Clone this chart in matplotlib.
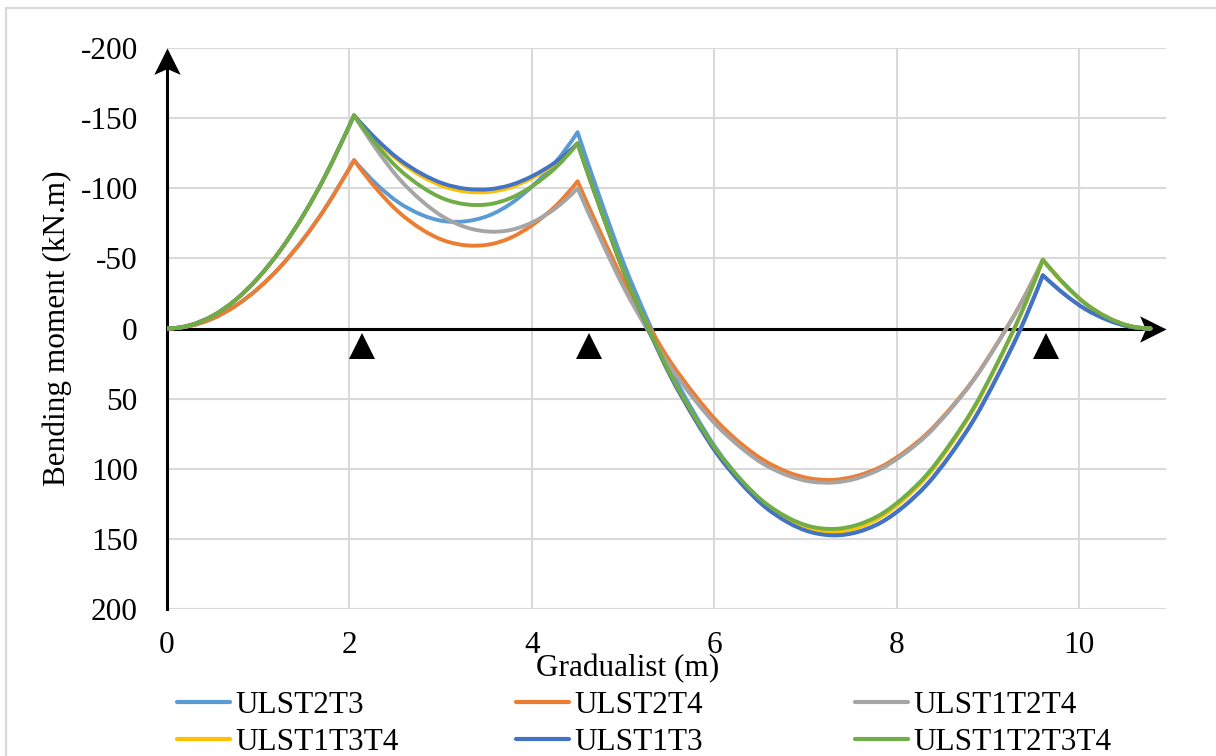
import matplotlib
matplotlib.use("Agg")
import matplotlib.pyplot as plt
from matplotlib.path import Path
from matplotlib.patches import PathPatch
from matplotlib.lines import Line2D

plt.rcParams['font.family'] = ['Liberation Serif', 'DejaVu Serif']

# ---------------- data ----------------
x_m = [0, 0.25, 0.5, 0.75, 1.0, 1.25, 1.5, 1.75, 2.05,
       2.30, 2.54, 2.79, 3.03, 3.28, 3.53, 3.77, 4.01, 4.26, 4.50,
       4.76, 5.01, 5.27, 5.52, 5.78, 6.03, 6.29, 6.54, 6.80, 7.05,
       7.31, 7.56, 7.82, 8.07, 8.33, 8.58, 8.84, 9.09, 9.35, 9.60,
       9.84, 10.07, 10.31, 10.54, 10.78]

ULST2T3 = [0, -1.8, -7.1, -16.1, -28.6, -44.6, -64.2, -87.4, -120,
           -102.7, -89.8, -81.1, -76.6, -76.5, -80.6, -89.1, -101.8, -118.7, -140,
           -90.6, -45.9, -5.8, 29.6, 60.4, 86.5, 107.9, 124.7, 136.8, 144.2,
           147.0, 145.1, 138.5, 127.3, 111.4, 90.9, 65.6, 35.8, 1.2, -38,
           -24.3, -13.7, -6.1, -1.5, 0]
ULST2T4 = [0, -1.8, -7.1, -16.1, -28.6, -44.6, -64.2, -87.4, -120,
           -99.3, -83.0, -70.8, -62.9, -59.3, -59.9, -64.8, -74.0, -87.4, -105,
           -67.3, -33.2, -2.8, 23.9, 46.9, 66.3, 82.0, 93.9, 102.3, 106.9,
           107.9, 105.1, 98.8, 88.7, 74.9, 57.5, 36.4, 11.6, -16.9, -49,
           -31.4, -17.6, -7.8, -2.0, 0]
ULST1T2T4 = [0, -2.3, -9.0, -20.3, -36.2, -56.5, -81.4, -110.8, -152,
             -127.4, -107.1, -91.1, -79.5, -72.1, -69.1, -70.3, -75.9, -85.8, -100,
             -62.6, -28.8, 1.3, 27.7, 50.5, 69.5, 84.9, 96.7, 104.7, 109.1,
             109.8, 106.9, 100.2, 89.9, 76.0, 58.3, 37.0, 12.0, -16.7, -49,
             -31.4, -17.6, -7.8, -2.0, 0]
ULST1T3T4 = [0, -2.3, -9.0, -20.3, -36.2, -56.5, -81.4, -110.8, -152,
             -134.0, -119.6, -108.7, -101.4, -97.6, -97.4, -100.7, -107.6, -118.0, -132,
             -83.5, -39.6, -0.4, 34.1, 64.0, 89.1, 109.6, 125.5, 136.6, 143.1,
             144.9, 142.1, 134.5, 122.3, 105.5, 83.9, 57.7, 26.8, -8.8, -49,
             -31.4, -17.6, -7.8, -2.0, 0]
ULST1T3 = [0, -2.3, -9.0, -20.3, -36.2, -56.5, -81.4, -110.8, -152,
           -134.7, -120.9, -110.4, -103.3, -99.6, -99.3, -102.4, -108.9, -118.7, -132,
           -83.6, -39.8, -0.5, 34.1, 64.1, 89.5, 110.3, 126.5, 138.1, 145.1,
           147.5, 145.3, 138.5, 127.1, 111.1, 90.5, 65.3, 35.4, 1.0, -38,
           -24.3, -13.7, -6.1, -1.5, 0]
ULST1T2T3T4 = [0, -2.3, -9.0, -20.3, -36.2, -56.5, -81.4, -110.8, -152,
               -130.7, -113.8, -101.1, -92.6, -88.5, -88.6, -93.1, -101.8, -114.7, -132,
               -83.8, -40.3, -1.4, 32.8, 62.5, 87.4, 107.8, 123.5, 134.6, 141.1,
               142.9, 140.1, 132.7, 120.6, 104.0, 82.6, 56.7, 26.1, -9.2, -49,
               -31.4, -17.6, -7.8, -2.0, 0]

series_names = ["ULST2T3", "ULST2T4", "ULST1T2T4", "ULST1T3T4", "ULST1T3", "ULST1T2T3T4"]
series_values = [ULST2T3, ULST2T4, ULST1T2T4, ULST1T3T4, ULST1T3, ULST1T2T3T4]
series_colors = ["#5B9BD5", "#ED7D31", "#A5A5A5", "#FFC000", "#4472C4", "#70AD47"]

kink_x = [2.05, 4.50, 9.60]          # supports where the moment curve has a corner
support_x = [2.14, 4.63, 9.63]       # drawn support triangles
support_y = [12.5, 12.5, 12.5]

x_ticks = [0, 2, 4, 6, 8, 10]
y_ticks = [-200, -150, -100, -50, 0, 50, 100, 150, 200]
y_tick_labels = ["-200", "-150", "-100", "-50", "0", "50", "100", "150", "200"]

x_label = "Gradualist (m)"
y_label = "Bending moment (kN.m)"


def smooth_path(xs, ys, corners):
    """Smoothed line through the given points (like a spreadsheet 'smoothed line'),
    keeping sharp corners at the given x positions."""
    pts = list(zip(xs, ys))
    cut = [0] + [i for i, xv in enumerate(xs) if any(abs(xv - c) < 1e-9 for c in corners)] + [len(xs) - 1]
    verts, codes = [pts[0]], [Path.MOVETO]
    for a, b in zip(cut[:-1], cut[1:]):
        p = pts[a:b + 1]
        n = len(p)
        if n >= 3:
            first = (3 * p[0][0] - 3 * p[1][0] + p[2][0], 3 * p[0][1] - 3 * p[1][1] + p[2][1])
            last = (3 * p[-1][0] - 3 * p[-2][0] + p[-3][0], 3 * p[-1][1] - 3 * p[-2][1] + p[-3][1])
        else:
            first, last = p[0], p[-1]
        q = [first] + p + [last]
        for i in range(1, n):
            p0, p1, p2, p3 = q[i - 1], q[i], q[i + 1], q[i + 2]
            c1 = (p1[0] + (p2[0] - p0[0]) / 6, p1[1] + (p2[1] - p0[1]) / 6)
            c2 = (p2[0] - (p3[0] - p1[0]) / 6, p2[1] - (p3[1] - p1[1]) / 6)
            verts += [c1, c2, p2]
            codes += [Path.CURVE4] * 3
    return Path(verts, codes)


# ---------------- figure ----------------
W, H = 1216, 756
fig = plt.figure(figsize=(W / 100, H / 100), dpi=100)
ax = fig.add_axes([167 / W, 1 - 609 / H, 999 / W, 561 / H])

XMAX = 10.95
ax.set_xlim(0, XMAX)
ax.set_ylim(200, -200)

FS = 22.5
ax.set_xticks(x_ticks)
ax.set_xticklabels([str(t) for t in x_ticks], fontsize=FS)
ax.set_yticks(y_ticks)
ax.set_yticklabels(y_tick_labels, fontsize=FS)
ax.tick_params(axis='both', length=0)
ax.tick_params(axis='x', pad=16)
ax.tick_params(axis='y', pad=21)
for s in ax.spines.values():
    s.set_visible(False)
ax.grid(True, color="#D9D9D9", linewidth=1.5, zorder=0)
ax.set_axisbelow(True)

# axis lines with arrows
ax.plot([0, XMAX - 0.1], [0, 0], color="black", lw=2.2, zorder=3, clip_on=False)
ax.plot([0, 0], [200, -195], color="black", lw=2.2, zorder=3, clip_on=False)

right_arrow = Path([(0, 0), (-1, 0.5), (-0.78, 0), (-1, -0.5), (0, 0)],
                   [Path.MOVETO, Path.LINETO, Path.LINETO, Path.LINETO, Path.CLOSEPOLY])
up_arrow = Path([(0, 0), (0.5, -1), (0, -0.78), (-0.5, -1), (0, 0)],
                [Path.MOVETO, Path.LINETO, Path.LINETO, Path.LINETO, Path.CLOSEPOLY])
ax.plot([XMAX], [0], marker=right_arrow, ms=38, color="black", mew=0, ls="none",
        zorder=4, clip_on=False)
ax.plot([0], [-200], marker=up_arrow, ms=38, color="black", mew=0, ls="none",
        zorder=4, clip_on=False)

# series
handles = []
for name, vals, col in zip(series_names, series_values, series_colors):
    patch = PathPatch(smooth_path(x_m, vals, kink_x), facecolor="none", edgecolor=col,
                      lw=2.8, joinstyle="round", capstyle="round", zorder=5)
    ax.add_patch(patch)
    handles.append(Line2D([], [], color=col, lw=3.0, solid_capstyle="round"))

# supports
ax.plot(support_x, support_y, marker="^", ms=19, color="black", mew=0, ls="none",
        zorder=6)

# axis titles
fig.text(628 / W, 1 - 676 / H, x_label, fontsize=FS, ha="center", va="baseline")
fig.text(57 / W, 1 - 328.5 / H, y_label, fontsize=FS, ha="center", va="center",
         rotation=90)

# legend: three equal-width columns
col_x = [177 / W, 516 / W, 855 / W]
order = [[0, 3], [1, 4], [2, 5]]
for cx, idx in zip(col_x, order):
    fig.legend([handles[i] for i in idx], [series_names[i] for i in idx],
               loc="center left", bbox_to_anchor=(cx, 1 - 724 / H),
               frameon=False, fontsize=FS, handlelength=1.7,
               handletextpad=0.16, borderpad=0, borderaxespad=0,
               labelspacing=0.25)

# chart-area border (left and top visible)
fig.add_artist(Line2D([6 / W, 6 / W], [0, 1 - 8 / H], transform=fig.transFigure,
                      color="#D9D9D9", lw=1.6))
fig.add_artist(Line2D([6 / W, 1], [1 - 8 / H, 1 - 8 / H], transform=fig.transFigure,
                      color="#D9D9D9", lw=1.6))

fig.savefig("out.png", dpi=100)
